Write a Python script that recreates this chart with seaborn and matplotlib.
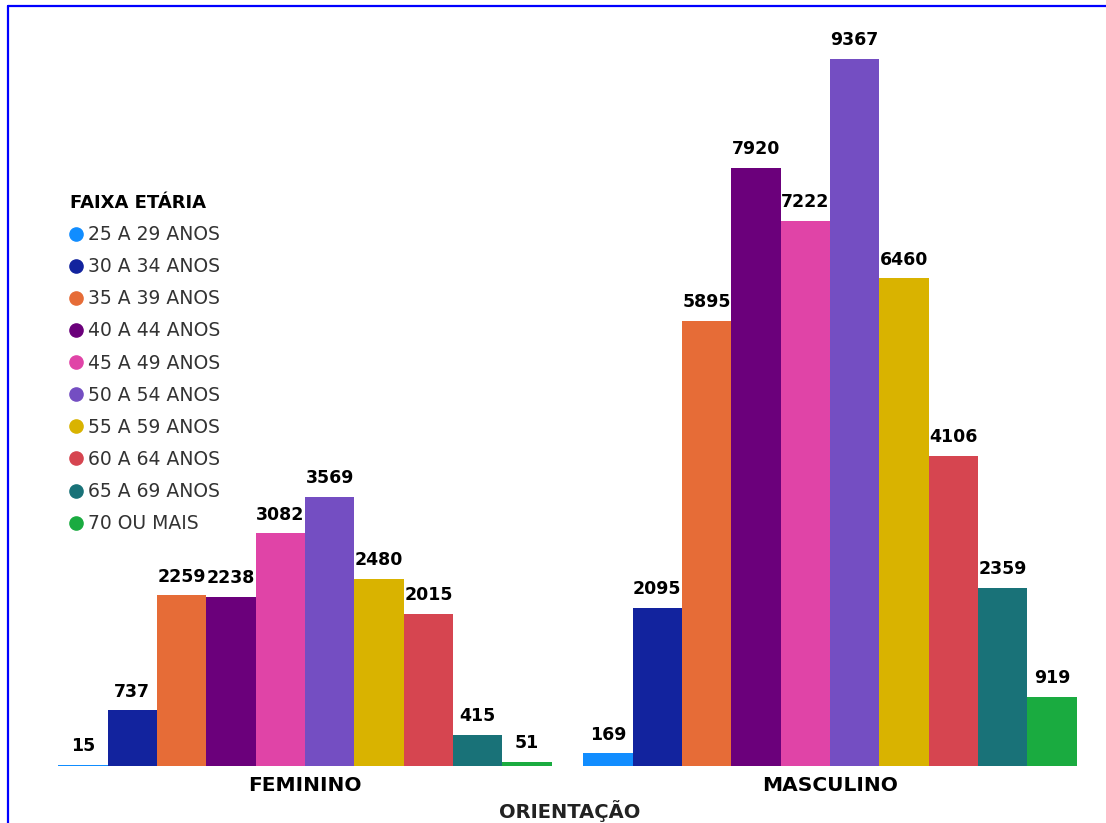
import matplotlib
matplotlib.use("Agg")
import matplotlib.pyplot as plt
import seaborn as sns
import pandas as pd
from matplotlib.lines import Line2D

orientacao = ["FEMININO", "MASCULINO"]
faixas = ["25 A 29 ANOS", "30 A 34 ANOS", "35 A 39 ANOS", "40 A 44 ANOS",
          "45 A 49 ANOS", "50 A 54 ANOS", "55 A 59 ANOS", "60 A 64 ANOS",
          "65 A 69 ANOS", "70 OU MAIS"]
feminino = [15, 737, 2259, 2238, 3082, 3569, 2480, 2015, 415, 51]
masculino = [169, 2095, 5895, 7920, 7222, 9367, 6460, 4106, 2359, 919]
cores = ["#118DFF", "#12239E", "#E66C37", "#6B007B", "#E044A7",
         "#744EC2", "#D9B300", "#D64550", "#197278", "#1AAB40"]

rows = []
for f, v in zip(faixas, feminino):
    rows.append({"ORIENTAÇÃO": orientacao[0], "FAIXA ETÁRIA": f, "VALOR": v})
for f, v in zip(faixas, masculino):
    rows.append({"ORIENTAÇÃO": orientacao[1], "FAIXA ETÁRIA": f, "VALOR": v})
df = pd.DataFrame(rows)

sns.set_theme(style="white")
plt.rcParams["font.family"] = ["DejaVu Sans"]

W, H = 1106, 823
fig = plt.figure(figsize=(W / 100, H / 100), dpi=100)
ax_l, ax_r, ax_top, ax_base = 40, 1095, 20, 766
ax = fig.add_axes([ax_l / W, (H - ax_base) / H, (ax_r - ax_l) / W, (ax_base - ax_top) / H])

sns.barplot(data=df, x="ORIENTAÇÃO", y="VALOR", hue="FAIXA ETÁRIA",
            order=orientacao, hue_order=faixas, palette=cores,
            width=0.94, gap=0, saturation=1, ax=ax, legend=False, errorbar=None,
            linewidth=0, edgecolor="none")

for cont in ax.containers:
    ax.bar_label(cont, fmt="%d", padding=7, fontsize=12.5, fontweight="bold", color="black")

ax.set_xlim((ax_l - 305) / 525, (ax_r - 305) / 525)
ax.set_ylim(0, (ax_base - ax_top) / 0.0755)
ax.set_yticks([])
ax.set_ylabel("")
for s in ax.spines.values():
    s.set_visible(False)
ax.tick_params(axis="x", length=0, pad=7)
for t in ax.get_xticklabels():
    t.set_fontsize(14.5)
    t.set_fontweight("bold")
    t.set_color("black")
ax.set_xlabel("ORIENTAÇÃO", fontsize=14, fontweight="bold", color="#222222")
ax.xaxis.set_label_coords((570 - ax_l) / (ax_r - ax_l), -(822.5 - ax_base) / (ax_base - ax_top))
ax.xaxis.label.set_va("bottom")

handles = [Line2D([0], [0], marker="o", linestyle="", markersize=9.5,
                  markerfacecolor=c, markeredgecolor=c) for c in cores]
leg = ax.legend(handles, faixas, title="FAIXA ETÁRIA", loc="upper left",
                bbox_to_anchor=(70 / W, (H - 194) / H), bbox_transform=fig.transFigure,
                frameon=False, fontsize=13.5, handlelength=0.6, handletextpad=0.35,
                labelspacing=0.70, borderpad=0, borderaxespad=0,
                title_fontproperties={"weight": "bold", "size": 13}, alignment="left")
leg.get_title().set_color("black")
for t in leg.get_texts():
    t.set_color("#333333")

fig.add_artist(Line2D([7.5 / W, 7.5 / W], [0, 1 - 5.5 / H], transform=fig.transFigure,
                      color="#0000FF", linewidth=1.6))
fig.add_artist(Line2D([7.5 / W, 1], [1 - 5.5 / H, 1 - 5.5 / H], transform=fig.transFigure,
                      color="#0000FF", linewidth=1.6))

fig.savefig("out.png", dpi=100)
